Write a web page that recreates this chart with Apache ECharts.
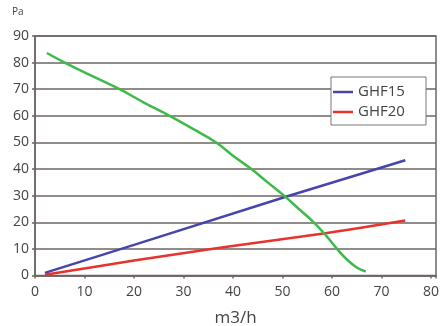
<!DOCTYPE html>
<html>
<head>
<meta charset="utf-8">
<script src="https://cdn.jsdelivr.net/npm/echarts@6/dist/echarts.min.js"></script>
<style>html,body{margin:0;padding:0;background:#fff}#c{width:441px;height:326px}</style>
</head>
<body>
<div id="c"></div>
<script>
// Data
const xTicks = [0, 10, 20, 30, 40, 50, 60, 70, 80];
const yTicks = [0, 10, 20, 30, 40, 50, 60, 70, 80, 90];
const seriesNames = ['GHF15', 'GHF20'];
const ghf15 = [[2, 1], [20, 11.5], [51, 29.8], [74.8, 43.3]];
const ghf20 = [[2, 0.3], [20, 5.6], [37, 10.3], [58.3, 15.8], [74.8, 20.7]];
const fanCurve = [[2.4, 83.6], [6, 80], [11.5, 75], [17.1, 70], [22, 65], [27.2, 60], [32, 55], [36.6, 50], [40, 45], [43.7, 40], [47, 35], [50.3, 30], [53.3, 25], [56.3, 20], [58.8, 15], [61, 10], [63, 6], [65, 3], [66.8, 1.5]];
const xName = 'm3/h';
const yName = 'Pa';

const gridColor = '#6d6563';
const textColor = '#444';
const font = 'Open Sans';

const chart = echarts.init(document.getElementById('c'), null, {renderer: 'canvas'});
chart.setOption({
  animation: false,
  backgroundColor: '#fff',
  title: {
    text: yName, left: 12, top: 7, padding: 0,
    textStyle: {fontSize: 10, fontWeight: 'normal', color: textColor, fontFamily: font}
  },
  grid: {
    left: 35, right: 5, top: 36, bottom: 50.5,
    containLabel: false, outerBoundsMode: 'none',
    show: true, borderColor: gridColor, borderWidth: 1.5, backgroundColor: 'transparent'
  },
  legend: {
    data: seriesNames,
    orient: 'vertical',
    left: 331, top: 77,
    padding: [5, 2, 3, 2],
    itemGap: 0,
    icon: 'rect',
    itemWidth: 20, itemHeight: 2.5,
    backgroundColor: '#fff',
    borderColor: '#7a7472', borderWidth: 1,
    textStyle: {fontSize: 15, color: textColor, fontFamily: font, width: 66, lineHeight: 20}
  },
  xAxis: {
    type: 'value', min: 0, max: 81, interval: 10,
    name: xName, nameLocation: 'middle', nameGap: 34,
    nameTextStyle: {fontSize: 17, color: textColor, fontFamily: font},
    axisLine: {show: true, lineStyle: {color: gridColor, width: 1.5}},
    axisTick: {show: true, length: 3, lineStyle: {color: gridColor, width: 1.5}},
    axisLabel: {
      fontSize: 14, color: textColor, fontFamily: font, margin: 10,
      formatter: v => xTicks.indexOf(v) >= 0 ? String(v) : ''
    },
    splitLine: {show: false}
  },
  yAxis: {
    type: 'value', min: 0, max: 90, interval: 10,
    axisLine: {show: true, lineStyle: {color: gridColor, width: 1.5}},
    axisTick: {show: true, length: 3, lineStyle: {color: gridColor, width: 1.5}},
    axisLabel: {
      fontSize: 14, color: textColor, fontFamily: font, margin: 6,
      formatter: v => yTicks.indexOf(v) >= 0 ? String(v) : ''
    },
    splitLine: {show: true, lineStyle: {color: gridColor, width: 1.5}}
  },
  series: [
    {name: seriesNames[0], type: 'line', data: ghf15, symbol: 'none',
     lineStyle: {color: '#4545ad', width: 2.5}, itemStyle: {color: '#4545ad'}},
    {name: seriesNames[1], type: 'line', data: ghf20, symbol: 'none', smooth: 0.3,
     lineStyle: {color: '#e8322d', width: 2.5}, itemStyle: {color: '#e8322d'}},
    {name: 'curve', type: 'line', data: fanCurve, symbol: 'none', smooth: 0.4,
     lineStyle: {color: '#3dba4a', width: 2.5}, itemStyle: {color: '#3dba4a'}}
  ]
});
</script>
</body>
</html>
